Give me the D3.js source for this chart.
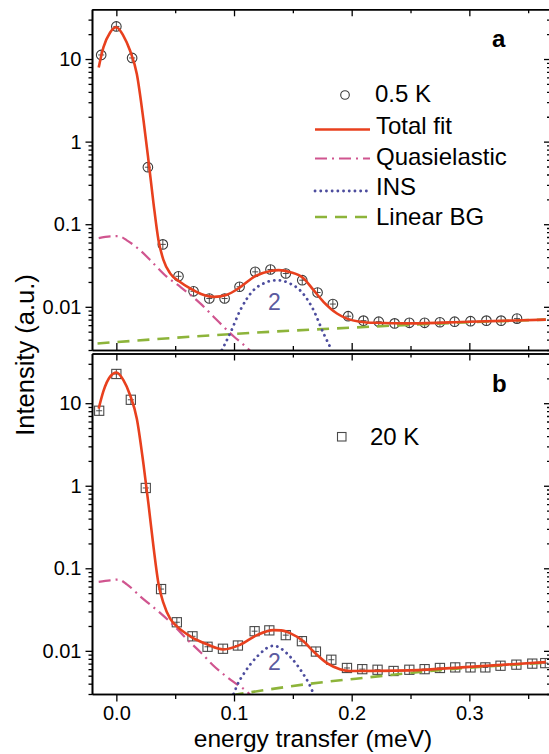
<!DOCTYPE html>
<html>
<head>
<meta charset="utf-8">
<script src="https://cdn.jsdelivr.net/npm/d3@7"></script>
<style>
  html, body { margin: 0; padding: 0; background: #fff; }
  svg { display: block; }
  text { font-family: "Liberation Sans", Arial, sans-serif; }
</style>
</head>
<body>
<svg id="chart" width="549" height="754"></svg>
<script>
// ---- data: energy transfer (meV) vs intensity (a.u.) ----
const xMajorTicks = [0, 0.1, 0.2, 0.3];
const xMajorLabels = ["0.0", "0.1", "0.2", "0.3"];
const xMinorTicks = [0.05, 0.15, 0.25, 0.35];
const yMajorTicks = [0.01, 0.1, 1, 10];
const yMajorLabels = ["0.01", "0.1", "1", "10"];
const yMinorTicks = [0.003, 0.004, 0.005, 0.006, 0.007, 0.008, 0.009,
  0.02, 0.03, 0.04, 0.05, 0.06, 0.07, 0.08, 0.09,
  0.2, 0.3, 0.4, 0.5, 0.6, 0.7, 0.8, 0.9,
  2, 3, 4, 5, 6, 7, 8, 9, 20, 30];

// panel a: 0.5 K
const dataA = [
  [-0.0129, 11.2], [0.0, 24.8], [0.0134, 10.3], [0.0268, 0.49], [0.0395, 0.057],
  [0.0528, 0.0234], [0.0656, 0.0154], [0.079, 0.0126], [0.092, 0.0126], [0.1047, 0.0175],
  [0.118, 0.0265], [0.131, 0.0283], [0.144, 0.0253], [0.158, 0.021], [0.171, 0.0149],
  [0.184, 0.0108], [0.197, 0.0077], [0.210, 0.0068], [0.223, 0.0066], [0.2365, 0.0063],
  [0.249, 0.0064], [0.262, 0.0064], [0.275, 0.0065], [0.2875, 0.0066], [0.301, 0.0067],
  [0.3145, 0.0068], [0.327, 0.0068], [0.3405, 0.0072]
];
const totalFitA = [
  [-0.015, 7.9], [-0.011, 13.8], [-0.0053, 21], [0.0, 24.3], [0.006, 19.1], [0.0117, 12.6],
  [0.0174, 6.6], [0.0231, 1.8], [0.0273, 0.59], [0.0316, 0.178], [0.0358, 0.064],
  [0.040, 0.037], [0.0457, 0.0254], [0.0542, 0.020], [0.0627, 0.0167], [0.072, 0.0143],
  [0.083, 0.0132], [0.094, 0.0140], [0.105, 0.0172], [0.118, 0.0235], [0.131, 0.0272],
  [0.138, 0.0278], [0.148, 0.0262], [0.159, 0.0222], [0.1676, 0.0159], [0.176, 0.0115],
  [0.1875, 0.0083], [0.196, 0.0072], [0.207, 0.0066], [0.22, 0.0064], [0.25, 0.0063],
  [0.3, 0.0066], [0.365, 0.0070]
];
const quasiA = [
  [-0.015, 0.068], [-0.0053, 0.0714], [0.0018, 0.0718], [0.0089, 0.0638], [0.0202, 0.0484],
  [0.0316, 0.0334], [0.043, 0.0230], [0.0542, 0.0175], [0.0713, 0.011], [0.0826, 0.0076],
  [0.0996, 0.0044], [0.111, 0.0032], [0.115, 0.0028]
];
const insA = [
  [0.0897, 0.003], [0.0968, 0.0048], [0.1053, 0.0091], [0.1166, 0.0159], [0.1245, 0.019],
  [0.1364, 0.021], [0.148, 0.019], [0.156, 0.0159], [0.1676, 0.0091], [0.176, 0.0048],
  [0.183, 0.003]
];
const bgA = [[-0.016, 0.0036], [0.1, 0.0047], [0.2, 0.0056], [0.3, 0.0065], [0.365, 0.0070]];

// panel b: 20 K
const dataB = [
  [-0.0146, 8.1], [0.0, 22.6], [0.0123, 11.0], [0.025, 0.94], [0.038, 0.056],
  [0.0514, 0.0222], [0.0647, 0.0150], [0.0775, 0.0112], [0.0906, 0.0106], [0.1033, 0.0116],
  [0.1175, 0.0173], [0.130, 0.0177], [0.144, 0.0155], [0.1577, 0.0131], [0.1696, 0.0098],
  [0.1827, 0.0078], [0.196, 0.0062], [0.209, 0.0060], [0.222, 0.0059], [0.2356, 0.0057],
  [0.249, 0.0059], [0.262, 0.0060], [0.275, 0.0062], [0.288, 0.0063], [0.301, 0.0063],
  [0.3136, 0.0063], [0.3265, 0.0066], [0.340, 0.0068], [0.3535, 0.0070], [0.3645, 0.0071]
];
const totalFitB = [
  [-0.015, 8.6], [-0.011, 14], [-0.0053, 21], [0.0, 23.5], [0.006, 19], [0.0117, 12.5],
  [0.0174, 6.5], [0.0231, 1.8], [0.0273, 0.6], [0.0316, 0.18], [0.0358, 0.065],
  [0.040, 0.038], [0.0457, 0.0245], [0.052, 0.0195], [0.0628, 0.015], [0.077, 0.012],
  [0.091, 0.0104], [0.105, 0.0118], [0.1195, 0.0155], [0.1336, 0.0178], [0.14, 0.0177],
  [0.148, 0.0163], [0.159, 0.0131], [0.1676, 0.0098], [0.179, 0.0071], [0.19, 0.0060],
  [0.199, 0.0057], [0.25, 0.0058], [0.3, 0.0064], [0.365, 0.0073]
];
const quasiB = [
  [-0.015, 0.0684], [-0.0053, 0.0715], [0.0018, 0.073], [0.0089, 0.064], [0.0202, 0.0458],
  [0.0372, 0.0288], [0.05, 0.0195], [0.06, 0.0138], [0.0713, 0.0097], [0.0826, 0.0066],
  [0.0996, 0.0042], [0.111, 0.0032], [0.115, 0.0028]
];
const insB = [
  [0.0996, 0.003], [0.104, 0.0042], [0.108, 0.0052], [0.1195, 0.0085], [0.1336, 0.0115],
  [0.1477, 0.0085], [0.159, 0.0052], [0.163, 0.0042], [0.1676, 0.003]
];
const bgB = [[0.098, 0.0029], [0.165, 0.0040], [0.216, 0.0048], [0.2725, 0.0058], [0.365, 0.0072]];

const legendA = ["Total fit", "Quasielastic", "INS", "Linear BG"];

// ---- layout ----
const svg = d3.select("#chart");
const W = 549, H = 754;
svg.append("rect").attr("width", W).attr("height", H).attr("fill", "#fff");

const plotLeft = 92, plotRight = 551;
const x = d3.scaleLinear().domain([-0.0207, 0.3694]).range([plotLeft, plotRight]);

const colors = {
  fit: "#e8401e",
  quasi: "#d0558f",
  ins: "#4d4d9e",
  bg: "#8db43a",
  mark: "#3a3a3a"
};
const styles = {
  fit:   { stroke: colors.fit,   width: 2.6, dash: null, cap: "butt" },
  quasi: { stroke: colors.quasi, width: 2.2, dash: "12,5,2,5", cap: "butt" },
  ins:   { stroke: colors.ins,   width: 2.8, dash: "0.1,5.6", cap: "round" },
  bg:    { stroke: colors.bg,    width: 2.6, dash: "12,8", cap: "butt" }
};

const axStyle = sel => {
  sel.selectAll("path,line").attr("stroke", "#000");
  sel.select(".domain").attr("stroke-width", 1.6);
  sel.selectAll(".tick line").attr("stroke-width", 1.3);
  sel.selectAll("text").attr("font-size", 20).attr("fill", "#000")
    .attr("font-family", '"Liberation Sans", Arial, sans-serif');
};

function panel(id, top, bottom, data, fits, markerType) {
  const y = d3.scaleLog().domain([0.003, 40]).range([bottom, top]);
  const g = svg.append("g");

  const clipId = "clip-" + id;
  svg.append("clipPath").attr("id", clipId)
    .append("rect").attr("x", plotLeft).attr("y", top)
    .attr("width", plotRight - plotLeft).attr("height", bottom - top);

  const plot = g.append("g").attr("clip-path", `url(#${clipId})`);

  // data markers with error bars
  const mk = plot.append("g").selectAll("g").data(data).join("g")
    .attr("transform", d => `translate(${x(d[0])},${y(d[1])})`);
  if (markerType === "circle") {
    mk.append("circle").attr("r", 4.8).attr("fill", "none")
      .attr("stroke", colors.mark).attr("stroke-width", 1.1);
  } else {
    mk.append("rect").attr("x", -4.6).attr("y", -4.6).attr("width", 9.2).attr("height", 9.2)
      .attr("fill", "none").attr("stroke", "#4a4a4a").attr("stroke-width", 1.1);
  }
  mk.append("line").attr("x1", 0).attr("x2", 0).attr("y1", -4.6).attr("y2", 4.6)
    .attr("stroke", colors.mark).attr("stroke-width", 0.9);
  mk.append("line").attr("x1", -3).attr("x2", 3).attr("y1", 0).attr("y2", 0)
    .attr("stroke", colors.mark).attr("stroke-width", 0.9);

  // fitted components
  const line = d3.line().x(d => x(d[0])).y(d => y(d[1])).curve(d3.curveMonotoneX);
  ["bg", "quasi", "ins", "fit"].forEach(k => {
    const s = styles[k];
    plot.append("path").datum(fits[k]).attr("d", line)
      .attr("fill", "none").attr("stroke", s.stroke).attr("stroke-width", s.width)
      .attr("stroke-dasharray", s.dash).attr("stroke-linecap", s.cap)
      .attr("stroke-linejoin", "round");
  });

  // left axis (outward ticks, labelled)
  g.append("g").attr("transform", `translate(${plotLeft},0)`)
    .call(d3.axisLeft(y).tickValues(yMinorTicks).tickSize(3.5).tickSizeOuter(0).tickFormat(""))
    .call(axStyle);
  g.append("g").attr("transform", `translate(${plotLeft},0)`)
    .call(d3.axisLeft(y).tickValues(yMajorTicks).tickSize(6.5).tickSizeOuter(0).tickPadding(4)
      .tickFormat((d, i) => yMajorLabels[i]))
    .call(axStyle);
  // right axis (inward ticks)
  g.append("g").attr("transform", `translate(${plotRight},0)`)
    .call(d3.axisRight(y).tickValues(yMinorTicks).tickSize(-4).tickSizeOuter(0).tickFormat(""))
    .call(axStyle);
  g.append("g").attr("transform", `translate(${plotRight},0)`)
    .call(d3.axisRight(y).tickValues(yMajorTicks).tickSize(-7).tickSizeOuter(0).tickFormat(""))
    .call(axStyle);
  // top axis (inward ticks)
  g.append("g").attr("transform", `translate(0,${top})`)
    .call(d3.axisTop(x).tickValues(xMinorTicks).tickSize(-4).tickSizeOuter(0).tickFormat(""))
    .call(axStyle);
  g.append("g").attr("transform", `translate(0,${top})`)
    .call(d3.axisTop(x).tickValues(xMajorTicks).tickSize(-7).tickSizeOuter(0).tickFormat(""))
    .call(axStyle);
  return { g, y };
}

const a = panel("a", 9.3, 350, dataA, { fit: totalFitA, quasi: quasiA, ins: insA, bg: bgA }, "circle");
const b = panel("b", 353.5, 694, dataB, { fit: totalFitB, quasi: quasiB, ins: insB, bg: bgB }, "square");

// bottom axis of panel a (inward ticks)
a.g.append("g").attr("transform", "translate(0,350)")
  .call(d3.axisBottom(x).tickValues(xMinorTicks).tickSize(-4).tickSizeOuter(0).tickFormat(""))
  .call(axStyle);
a.g.append("g").attr("transform", "translate(0,350)")
  .call(d3.axisBottom(x).tickValues(xMajorTicks).tickSize(-7).tickSizeOuter(0).tickFormat(""))
  .call(axStyle);
// bottom axis of panel b (outward ticks, labelled)
b.g.append("g").attr("transform", "translate(0,694)")
  .call(d3.axisBottom(x).tickValues(xMinorTicks).tickSize(5).tickSizeOuter(0).tickFormat(""))
  .call(axStyle);
b.g.append("g").attr("transform", "translate(0,694)")
  .call(d3.axisBottom(x).tickValues(xMajorTicks).tickSize(7.5).tickSizeOuter(0).tickPadding(4)
    .tickFormat((d, i) => xMajorLabels[i]))
  .call(axStyle);

// axis titles
svg.append("text").attr("x", 313).attr("y", 746.5).attr("text-anchor", "middle")
  .attr("font-size", 24.5).text("energy transfer (meV)");
svg.append("text").attr("transform", "translate(34,355) rotate(-90)")
  .attr("text-anchor", "middle").attr("font-size", 25.5).text("Intensity (a.u.)");

// panel letters
svg.append("text").attr("x", 492).attr("y", 47).attr("font-size", 24)
  .attr("font-weight", "bold").text("a");
svg.append("text").attr("x", 492).attr("y", 392).attr("font-size", 24)
  .attr("font-weight", "bold").text("b");

// INS peak labels
svg.append("text").attr("x", 268).attr("y", 310).attr("font-size", 23)
  .attr("fill", "#5b5b9f").text("2");
svg.append("text").attr("x", 268).attr("y", 670).attr("font-size", 23)
  .attr("fill", "#5b5b9f").text("2");

// legend, panel a
const leg = svg.append("g");
leg.append("circle").attr("cx", 345).attr("cy", 95).attr("r", 4.3)
  .attr("fill", "none").attr("stroke", colors.mark).attr("stroke-width", 1.1);
leg.append("text").attr("x", 375).attr("y", 101.5).attr("font-size", 24).text("0.5 K");
const legKeys = ["fit", "quasi", "ins", "bg"];
const legBase = [133.5, 164.5, 195, 225];
const legLineY = [129.5, 158.5, 191, 217];
legKeys.forEach((k, i) => {
  const s = styles[k];
  leg.append("line").attr("x1", 315).attr("x2", 370).attr("y1", legLineY[i]).attr("y2", legLineY[i])
    .attr("stroke", s.stroke).attr("stroke-width", s.width)
    .attr("stroke-dasharray", s.dash).attr("stroke-linecap", s.cap);
  leg.append("text").attr("x", 376).attr("y", legBase[i]).attr("font-size", 24).text(legendA[i]);
});

// legend, panel b
svg.append("rect").attr("x", 337.5).attr("y", 432.5).attr("width", 8.5).attr("height", 8.5)
  .attr("fill", "none").attr("stroke", "#4a4a4a").attr("stroke-width", 1.1);
svg.append("text").attr("x", 370).attr("y", 445).attr("font-size", 24).text("20 K");
</script>
</body>
</html>
